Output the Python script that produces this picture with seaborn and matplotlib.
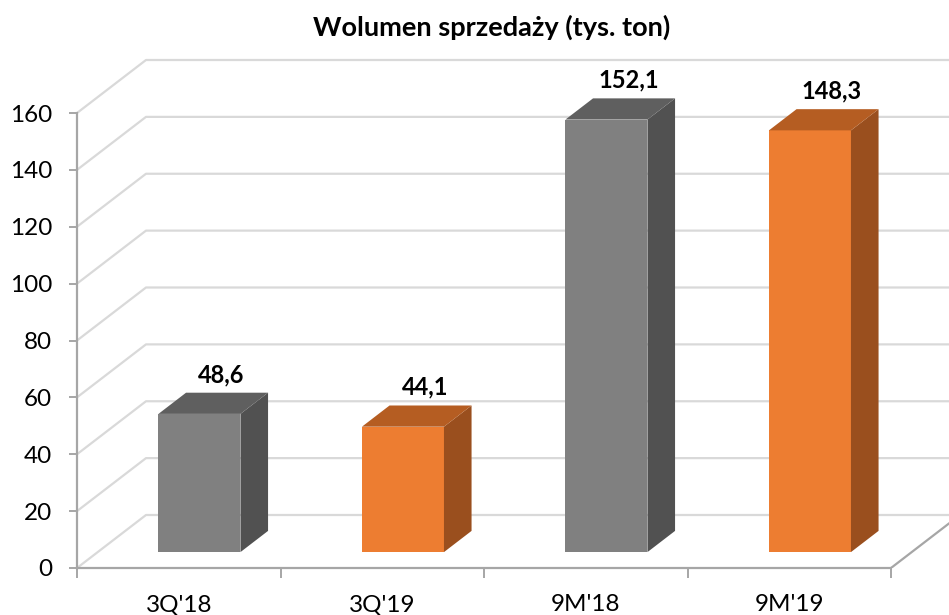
import numpy as np
import matplotlib
matplotlib.use("Agg")
import matplotlib.pyplot as plt
from matplotlib.patches import Polygon
import seaborn as sns

# ---- data ----
categories = ["3Q'18", "3Q'19", "9M'18", "9M'19"]
values = [48.6, 44.1, 152.1, 148.3]
value_labels = ["48,6", "44,1", "152,1", "148,3"]
front_colors = ["#808080", "#ed7d31", "#808080", "#ed7d31"]
top_colors = ["#5f5f5f", "#b55d22", "#5f5f5f", "#b55d22"]
side_colors = ["#515151", "#9a4f1e", "#515151", "#9a4f1e"]
yticks = [0, 20, 40, 60, 80, 100, 120, 140, 160]
title = "Wolumen sprzedaży (tys. ton)"

sns.set_theme(style="white")
plt.rcParams["font.family"] = ["Lato", "DejaVu Sans"]

W, H = 949, 615
fig = plt.figure(figsize=(W / 100, H / 100), dpi=100)

PX_CAT = 203.5
PX_UNIT = (568 - 113) / 160.0
left_px, right_px, bot_px, top_px = 77, 949, 568, 55
ax = fig.add_axes([left_px / W, (H - bot_px) / H, (right_px - left_px) / W, (bot_px - top_px) / H])
xmin = -0.5
xmax = xmin + (right_px - left_px) / PX_CAT
ymax = (bot_px - top_px) / PX_UNIT

# 3D depth offsets (full floor depth)
DX = 69 / PX_CAT
DY = 53 / PX_UNIT
f0, f1 = 0.30, 0.70

sns.barplot(x=categories, y=values, hue=categories, palette=front_colors,
            width=0.403, saturation=1, legend=False, ax=ax, zorder=3,
            linewidth=0)

ax.set_xlim(xmin, xmax)
ax.set_ylim(0, ymax)

grid_c = "#d9d9d9"
axis_c = "#a6a6a6"
# back wall + side wall grid lines
for v in yticks:
    ax.plot([xmin, xmin + DX, xmax + 1], [v, v + DY, v + DY], color=grid_c, lw=1.6,
            zorder=1, solid_capstyle="butt", clip_on=True)
# floor right edge
ax.plot([3.5, 3.5 + DX], [0, DY], color=axis_c, lw=1.6, zorder=2, clip_on=True)

patches = sorted(ax.patches, key=lambda p: p.get_x())
for i, p in enumerate(patches):
    x0, w, h = p.get_x(), p.get_width(), p.get_height()
    xl = x0 + f0 * DX
    yb = f0 * DY
    p.set_x(xl)
    p.set_y(yb)
    dd = f1 - f0
    side = Polygon([(xl + w, yb), (xl + w + dd * DX, yb + dd * DY),
                    (xl + w + dd * DX, yb + dd * DY + h), (xl + w, yb + h)],
                   closed=True, facecolor=side_colors[i], edgecolor="none", zorder=3)
    top = Polygon([(xl, yb + h), (xl + w, yb + h), (xl + w + dd * DX, yb + h + dd * DY),
                   (xl + dd * DX, yb + h + dd * DY)],
                  closed=True, facecolor=top_colors[i], edgecolor="none", zorder=3)
    ax.add_patch(side)
    ax.add_patch(top)
    ax.text(xl + w / 2 + 0.32 * DX, h + f1 * DY + 6.4, value_labels[i],
            ha="center", va="center", fontsize=17, fontweight="bold", color="#000000", zorder=5)

# axes styling
for s in ["top", "right"]:
    ax.spines[s].set_visible(False)
ax.spines["left"].set_bounds(0, 160)
ax.spines["bottom"].set_bounds(-0.5, 3.5)
for s in ["left", "bottom"]:
    ax.spines[s].set_color(axis_c)
    ax.spines[s].set_linewidth(1.6)
    ax.spines[s].set_zorder(2)

ax.set_yticks(yticks)
ax.set_yticklabels([str(v) for v in yticks])
ax.tick_params(axis="y", direction="out", length=6, width=1.4, color=axis_c,
               labelsize=17.5, pad=12, labelcolor="#000000", left=True)
ax.set_xticks(range(len(categories)))
ax.set_xticklabels(categories)
ax.tick_params(axis="x", which="major", length=0, labelsize=17.5, pad=19, labelcolor="#000000")
ax.set_xticks([-0.5, 0.5, 1.5, 2.5, 3.5], minor=True)
ax.tick_params(axis="x", which="minor", direction="out", length=7, width=1.4, color=axis_c, bottom=True)
ax.set_xlabel("")
ax.set_ylabel("")
ax.grid(False)

fig.text(491.5 / W, 1 - 27 / H, title, ha="center", va="center",
         fontsize=19.5, fontweight="bold", color="#000000")

fig.savefig("out.png", dpi=100)
